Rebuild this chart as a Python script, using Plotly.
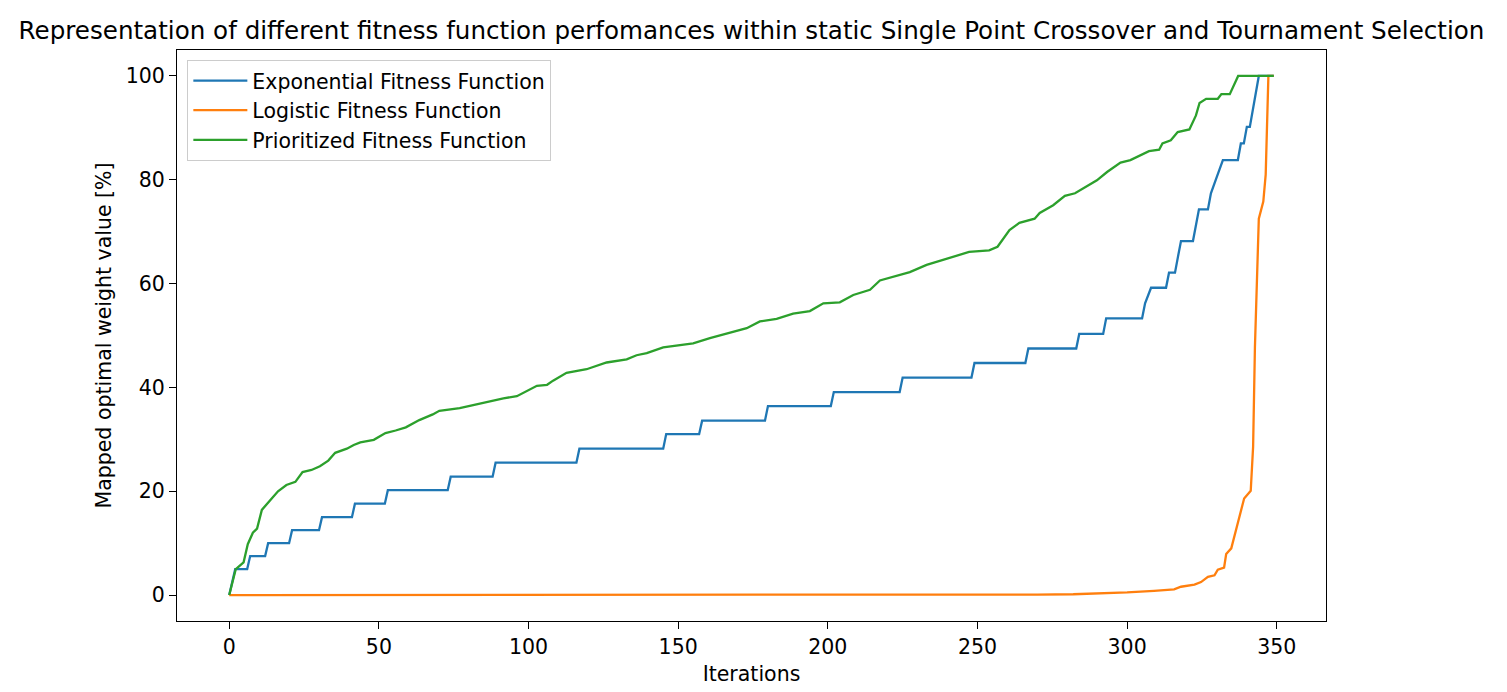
import plotly.graph_objects as go

# ---- data ----
exp_x = [0, 2, 6, 7, 12, 13, 20, 21, 30, 31, 41, 42, 52, 53, 73, 74, 88, 89,
         116, 117, 145, 146, 157, 158, 179, 180, 201, 202, 224, 225, 248, 249,
         266, 267, 283, 284, 292, 293, 305, 306, 308, 313, 314, 316, 317, 318,
         322, 323, 324, 327, 328, 330, 332, 337, 338, 339, 340, 341, 344, 349]
exp_y = [0, 5.0, 5.0, 7.5, 7.5, 10.0, 10.0, 12.5, 12.5, 15.0, 15.0, 17.6, 17.6,
         20.2, 20.2, 22.8, 22.8, 25.5, 25.5, 28.2, 28.2, 31.0, 31.0, 33.6, 33.6,
         36.4, 36.4, 39.1, 39.1, 41.9, 41.9, 44.7, 44.7, 47.5, 47.5, 50.3, 50.3,
         53.3, 53.3, 56.2, 59.2, 59.2, 62.1, 62.1, 65.2, 68.2, 68.2, 71.3, 74.3,
         74.3, 77.4, 80.6, 83.8, 83.8, 87.0, 87.0, 90.2, 90.2, 100, 100]

log_x = [0, 150, 200, 250, 270, 282, 293, 300, 309, 315.7, 318, 322.5, 324.7,
         327, 329.2, 330.3, 332.4, 333.1, 334.8, 336.2, 337.6, 339.1, 341.3,
         342.1, 342.7, 343.6, 344.0, 345.5, 346.3, 347.2, 349]
log_y = [0, 0, 0.02, 0.05, 0.1, 0.15, 0.3, 0.5, 0.8, 1.1, 1.6, 2.0, 2.5, 3.5,
         3.8, 4.9, 5.3, 7.9, 9.0, 12.3, 15.3, 18.6, 20.1, 28.6, 47.7, 62.5,
         72.5, 75.8, 81.0, 100, 100]

pri_x = [0, 2.2, 4.8, 6.2, 7.9, 9.3, 10.9, 12.9, 16.3, 19.1, 22.1, 24.5, 27.5,
         30.3, 33.1, 35.4, 39.3, 41.6, 43.8, 48.3, 52.2, 55.6, 59.0, 63.5, 68.0,
         70.2, 73.6, 77.0, 81.5, 87.1, 91.6, 96.1, 99.4, 102.8, 106.2, 108.2,
         112.7, 119.4, 126.1, 132.8, 136.1, 139.5, 145.0, 149.5, 155.0, 160.6,
         166.2, 172.9, 177.3, 182.9, 188.4, 194.0, 198.5, 204.0, 208.5, 214.1,
         217.4, 221.8, 227.4, 233.0, 238.0, 241.6, 247.2, 253.9, 256.7, 260.7,
         264.0, 269.1, 270.8, 275.3, 279.2, 282.6, 286.5, 289.9, 293.3, 297.8,
         301.1, 304.5, 307.3, 310.7, 311.8, 314.6, 316.9, 320.8, 323.0, 324.2,
         326.4, 330.3, 331.5, 334.3, 337.1, 349]
pri_y = [0, 5.0, 6.3, 9.8, 12.0, 12.8, 16.4, 17.8, 20.0, 21.2, 21.8, 23.7, 24.1,
         24.8, 25.9, 27.4, 28.2, 28.9, 29.4, 29.9, 31.2, 31.7, 32.3, 33.7, 34.8,
         35.5, 35.7, 36.0, 36.6, 37.3, 37.9, 38.3, 39.3, 40.3, 40.5, 41.3,
         42.8, 43.5, 44.8, 45.4, 46.2, 46.6, 47.7, 48.0, 48.5, 49.5, 50.3, 51.4,
         52.7, 53.2, 54.2, 54.7, 56.2, 56.4, 57.8, 58.8, 60.6, 61.3, 62.2, 63.6,
         64.5, 65.1, 66.1, 66.4, 67.1, 70.3, 71.7, 72.5, 73.6, 75.1, 76.9, 77.4,
         78.7, 79.9, 81.5, 83.3, 83.8, 84.8, 85.5, 85.8, 87.0, 87.6, 89.2, 89.7,
         92.4, 94.8, 95.6, 95.6, 96.5, 96.5, 100, 100]

x_ticks = [0, 50, 100, 150, 200, 250, 300, 350]
y_ticks = [0, 20, 40, 60, 80, 100]

title_text = ("Representation of different fitness function perfomances within "
              "static Single Point Crossover and Tournament Selection")

FONT = "DejaVu Sans"
FS = 20.5
TFS = 24.6
W, H = 1499, 684  # page body adds an 8px margin on the top/left

fig = go.Figure()
fig.add_trace(go.Scatter(x=exp_x, y=exp_y, mode="lines",
                         name="Exponential Fitness Function",
                         line=dict(color="#1f77b4", width=2.3)))
fig.add_trace(go.Scatter(x=log_x, y=log_y, mode="lines",
                         name="Logistic Fitness Function",
                         line=dict(color="#ff7f0e", width=2.3)))
fig.add_trace(go.Scatter(x=pri_x, y=pri_y, mode="lines",
                         name="Prioritized Fitness Function",
                         line=dict(color="#2ca02c", width=2.3)))

axis_common = dict(showline=True, linecolor="black", linewidth=1, mirror=True,
                   ticks="outside", ticklen=7, tickwidth=1, tickcolor="black",
                   showgrid=False, zeroline=False, automargin=False,
                   tickfont=dict(family=FONT, size=FS, color="black"))

fig.update_layout(
    width=W, height=H,
    margin=dict(l=169, r=181, t=42, b=71),
    paper_bgcolor="white", plot_bgcolor="white",
    font=dict(family=FONT, size=FS, color="black"),
    title=dict(text=title_text, x=0.5, xref="paper", xanchor="center",
               y=1 - 22 / H, yref="container", yanchor="middle",
               font=dict(family=FONT, size=TFS, color="black")),
    xaxis=dict(range=[-17.45, 366.45], tickvals=x_ticks,
               title=dict(text="Iterations", standoff=9,
                          font=dict(family=FONT, size=FS, color="black")),
               **axis_common),
    yaxis=dict(range=[-5, 105], tickvals=y_ticks,
               title=dict(text="Mapped optimal weight value [%]", standoff=8,
                          font=dict(family=FONT, size=FS, color="black")),
               **axis_common),
    legend=dict(x=0.009, y=0.983, xanchor="left", yanchor="top",
                bgcolor="rgba(255,255,255,0.8)", bordercolor="#cccccc",
                borderwidth=1, font=dict(family=FONT, size=FS, color="black"),
                tracegroupgap=0, itemwidth=54),
    showlegend=True,
)

fig.write_html("out.html")
